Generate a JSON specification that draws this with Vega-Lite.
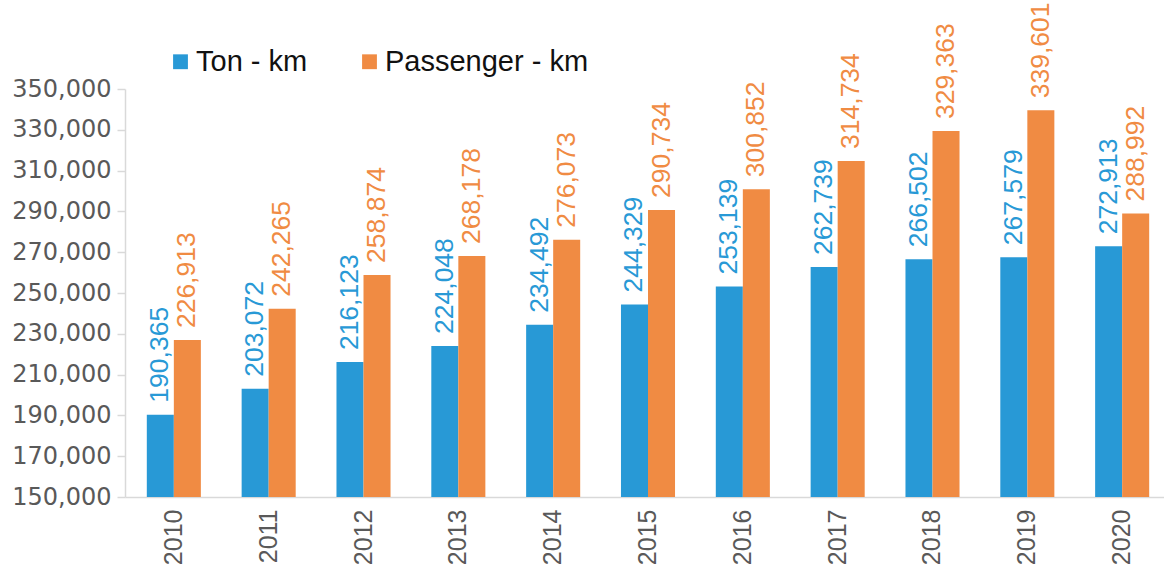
{
  "$schema": "https://vega.github.io/schema/vega-lite/v6.json",
  "width": 1046,
  "height": 408,
  "autosize": {"type": "none"},
  "padding": {"left": 125, "top": 89, "right": 0, "bottom": 73},
  "background": "white",
  "config": {
    "view": {"stroke": null},
    "font": "Liberation Sans",
    "legend": {"padding": 0}
  },
  "data": {
    "values": [
      {"year": "2010", "series": "Ton - km", "value": 190365},
      {"year": "2010", "series": "Passenger - km", "value": 226913},
      {"year": "2011", "series": "Ton - km", "value": 203072},
      {"year": "2011", "series": "Passenger - km", "value": 242265},
      {"year": "2012", "series": "Ton - km", "value": 216123},
      {"year": "2012", "series": "Passenger - km", "value": 258874},
      {"year": "2013", "series": "Ton - km", "value": 224048},
      {"year": "2013", "series": "Passenger - km", "value": 268178},
      {"year": "2014", "series": "Ton - km", "value": 234492},
      {"year": "2014", "series": "Passenger - km", "value": 276073},
      {"year": "2015", "series": "Ton - km", "value": 244329},
      {"year": "2015", "series": "Passenger - km", "value": 290734},
      {"year": "2016", "series": "Ton - km", "value": 253139},
      {"year": "2016", "series": "Passenger - km", "value": 300852},
      {"year": "2017", "series": "Ton - km", "value": 262739},
      {"year": "2017", "series": "Passenger - km", "value": 314734},
      {"year": "2018", "series": "Ton - km", "value": 266502},
      {"year": "2018", "series": "Passenger - km", "value": 329363},
      {"year": "2019", "series": "Ton - km", "value": 267579},
      {"year": "2019", "series": "Passenger - km", "value": 339601},
      {"year": "2020", "series": "Ton - km", "value": 272913},
      {"year": "2020", "series": "Passenger - km", "value": 288992}
    ]
  },
  "encoding": {
    "x": {
      "field": "year", "type": "nominal", "title": null,
      "scale": {"paddingInner": 0.43, "paddingOuter": 0.23},
      "axis": {
        "labelAngle": -90, "labelAlign": "right", "labelBaseline": "middle",
        "labelFontSize": 25, "labelColor": "#595959", "labelFont": "Liberation Sans",
        "ticks": false, "labelPadding": 12,
        "domainColor": "#d9d9d9", "domainWidth": 1.5
      }
    },
    "xOffset": {"field": "series", "type": "nominal", "sort": ["Ton - km", "Passenger - km"]},
    "y": {
      "field": "value", "type": "quantitative", "title": null,
      "scale": {"domain": [150000, 350000], "nice": false, "zero": false},
      "axis": {
        "values": [150000, 170000, 190000, 210000, 230000, 250000, 270000, 290000, 310000, 330000, 350000],
        "format": ",.0f", "grid": false,
        "labelFontSize": 24, "labelColor": "#595959", "labelFont": "DejaVu Sans",
        "tickColor": "#d9d9d9", "tickSize": 8, "tickWidth": 1.5, "labelPadding": 6,
        "domainColor": "#d9d9d9", "domainWidth": 1.5
      }
    },
    "color": {
      "field": "series", "type": "nominal", "sort": ["Ton - km", "Passenger - km"],
      "scale": {"domain": ["Ton - km", "Passenger - km"], "range": ["#2899d6", "#f08b43"]},
      "legend": {
        "title": null, "orient": "none", "legendX": 41, "legendY": -42,
        "direction": "horizontal", "symbolType": "square", "symbolSize": 220,
        "symbolStrokeWidth": 0,
        "labelFontSize": 29, "labelColor": "#111111", "labelFont": "Liberation Sans",
        "labelLimit": 400,
        "columnPadding": 47, "symbolOffset": 0, "labelOffset": 1
      }
    }
  },
  "layer": [
    {"mark": {"type": "bar", "clip": true}},
    {
      "mark": {"type": "text", "angle": -90, "align": "left", "baseline": "middle", "dx": 12, "fontSize": 26.5, "font": "Liberation Sans"},
      "encoding": {"text": {"field": "value", "type": "quantitative", "format": ",.0f"}}
    }
  ]
}
